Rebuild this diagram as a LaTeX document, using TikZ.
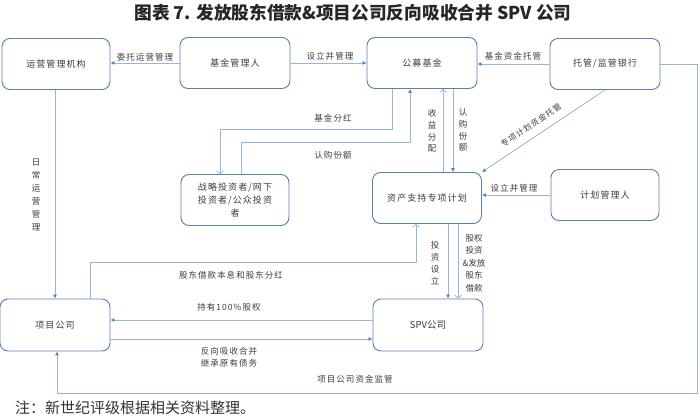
\documentclass[tikz,border=0pt]{standalone}
\usepackage{fontspec}
\setmainfont{Liberation Serif}
\newfontfamily\cjk[LetterSpace=12]{Noto Sans CJK SC}
\newfontfamily\cjkt{Noto Sans CJK SC}
\usetikzlibrary{arrows.meta}
\definecolor{boxc}{RGB}{88,128,176}
\definecolor{linec}{RGB}{150,182,218}
\definecolor{txtc}{RGB}{60,60,60}
\tikzset{
  box/.style={draw=boxc, line width=0.9pt, rounded corners=8pt, minimum width=108pt, minimum height=51pt, inner sep=2pt,
    font=\cjk\fontsize{9}{13}\selectfont, align=center, fill=white, text=txtc},
  ln/.style={draw=linec, line width=0.75pt},
  fa/.style={-{Latex[length=4pt,width=4pt,color=boxc]}},
  oa/.style={-{Straight Barb[length=3pt,width=7pt]}},
  lbl/.style={font=\cjk\fontsize{8.5}{12}\selectfont, text=txtc, align=center, inner sep=0pt},
}
\begin{document}
\begin{tikzpicture}[x=1pt,y=-1pt]
\useasboundingbox[fill=white] (0,0) rectangle (700,418);
% title and note
\node[font=\cjkt\bfseries\fontsize{17.7}{20}\selectfont, text=black!85] (title) at (353,13) {图表 7. 发放股东借款\&项目公司反向吸收合并 SPV 公司};
\node[font=\cjkt\fontsize{15}{18}\selectfont, anchor=west, text=black!80, inner sep=0pt] (note) at (15,408) {注：新世纪评级根据相关资料整理。};
% boxes
\node[box, minimum width=108pt] (ops) at (56,64) {运营管理机构};
\node[box, minimum width=110pt] (fm) at (235,63) {基金管理人};
\node[box, minimum width=110pt] (fund) at (422,63) {公募基金};
\node[box, minimum width=110pt] (bank) at (605,64) {托管/监管银行};
\node[box] (inv) at (235,200) {战略投资者/网下\\投资者/公众投资\\者};
\node[box, minimum width=109pt] (abs) at (427,198) {资产支持专项计划};
\node[box] (pm) at (605,195) {计划管理人};
\node[box, minimum width=110pt, minimum height=52pt] (proj) at (55,325) {项目公司};
\node[box, minimum width=110pt, minimum height=52pt] (spv) at (428,325) {\cjkt\fontsize{9.5}{12}\selectfont SPV公司};
% helper coordinates
\coordinate (xa) at (55,0);
\coordinate (xr) at (697,0);
\coordinate (xl) at (57,0);
\coordinate (yb) at (0,393);
\coordinate (x392) at (392,0);
\coordinate (x220) at (220,0);
\coordinate (y129) at (0,129);
\coordinate (x241) at (241,0);
\coordinate (y142) at (0,142);
\coordinate (x410) at (410,0);
\coordinate (x443) at (443,0);
\coordinate (x453) at (453,0);
\coordinate (x448) at (448,0);
\coordinate (x458) at (458,0);
\coordinate (x90) at (90,0);
\coordinate (y262) at (0,262);
\coordinate (x416) at (416,0);
\coordinate (y320) at (0,320);
\coordinate (y339) at (0,339);
% connectors
\draw[ln,fa] (fm.west) -- (fm.west -| ops.east);
\draw[ln,fa] (fm.east) -- (fm.east -| fund.west);
\draw[ln,fa] (bank.west) -- (bank.west -| fund.east);
\draw[ln,fa] (pm.west) -- (pm.west -| abs.east);
\draw[ln,fa] (bank.south) -- (abs.north east);
\draw[ln,fa] (ops.south -| xa) -- (proj.north -| xa);
\draw[ln,fa] (bank.east) -- (bank.east -| xr) -- (yb -| xr) -- (yb -| xl) -- (proj.south -| xl);
\draw[ln,oa] (fund.south -| x392) -- (x392 |- y129) -- (x220 |- y129) -- (inv.north -| x220);
\draw[ln,fa] (inv.north -| x241) -- (x241 |- y142) -- (x410 |- y142) -- (fund.south -| x410);
\draw[ln,oa] (abs.north -| x443) -- (fund.south -| x443);
\draw[ln,fa] (fund.south -| x453) -- (abs.north -| x453);
\draw[ln,fa] (abs.south -| x448) -- (spv.north -| x448);
\draw[ln,oa] (abs.south -| x458) -- (spv.north -| x458);
\draw[ln,oa] (proj.north -| x90) -- (x90 |- y262) -- (x416 |- y262) -- (abs.south -| x416);
\draw[ln,fa] (spv.west |- y320) -- (proj.east |- y320);
\draw[ln,fa] (proj.east |- y339) -- (spv.west |- y339);
% labels
\node[lbl] (l1) at (145,57) {委托运营管理};
\node[lbl] (l2) at (330,56) {设立并管理};
\node[lbl] (l3) at (513,56) {基金资金托管};
\node[lbl] (l4) at (333,118) {基金分红};
\node[lbl] (l5) at (333,155) {认购份额};
\node[lbl, font=\cjkt\fontsize{8.5}{11.8}\selectfont] (l6) at (432,131) {收\\益\\分\\配};
\node[lbl, font=\cjkt\fontsize{8.5}{11.8}\selectfont] (l7) at (463,130) {认\\购\\份\\额};
\node[lbl, rotate=34, font=\cjk\fontsize{8}{12}\selectfont] (l8) at (531,125) {专项计划资金托管};
\node[lbl] (l9) at (514,188) {设立并管理};
\node[lbl, font=\cjkt\fontsize{8.5}{13}\selectfont] (l10) at (36,195) {日\\常\\运\\营\\管\\理};
\node[lbl] (l11) at (231,275) {股东借款本息和股东分红};
\node[lbl] (l12) at (229,307) {持有100\%股权};
\node[lbl] (l13) at (229,357) {反向吸收合并\\继承原有债务};
\node[lbl, font=\cjkt\fontsize{8.5}{12}\selectfont] (l14) at (435,263) {投\\资\\设\\立};
\node[lbl, font=\cjkt\fontsize{8.5}{12.5}\selectfont] (l15) at (474,263) {股权\\投资\\\&发放\\股东\\借款};
\node[lbl] (l16) at (355,379) {项目公司资金监管};
\end{tikzpicture}
\end{document}
